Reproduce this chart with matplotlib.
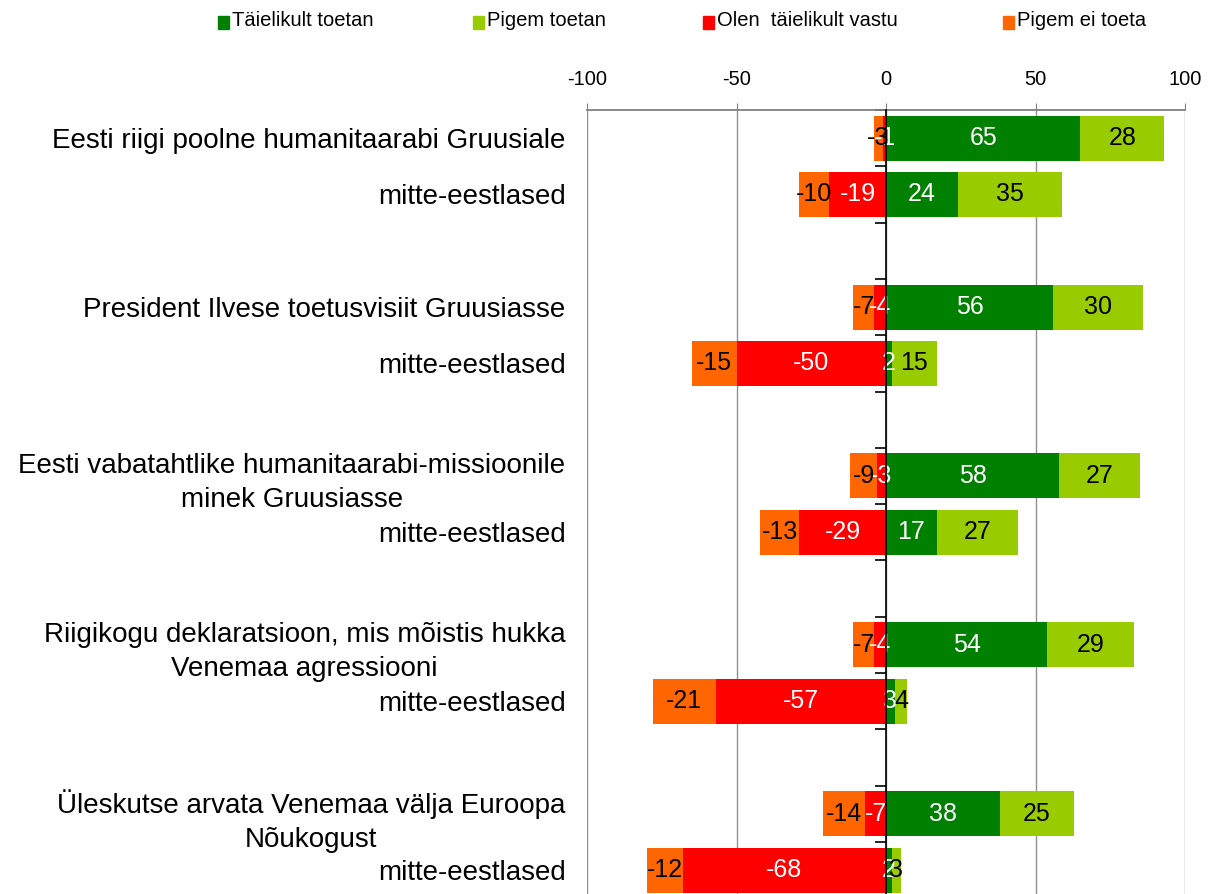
import matplotlib
matplotlib.use('Agg')
import matplotlib.pyplot as plt
from matplotlib.patches import Rectangle
from matplotlib.ticker import FixedLocator
import numpy as np

plt.rcParams['font.family'] = ['Liberation Sans', 'DejaVu Sans']

# ---- data ----
questions = [
    "Eesti riigi poolne humanitaarabi Gruusiale",
    "President Ilvese toetusvisiit Gruusiasse",
    "Eesti vabatahtlike humanitaarabi-missioonile\nminek Gruusiasse",
    "Riigikogu deklaratsioon, mis mõistis hukka\nVenemaa agressiooni",
    "Üleskutse arvata Venemaa välja Euroopa\nNõukogust",
]
subgroup = "mitte-eestlased"
series_names = ["Täielikult toetan", "Pigem toetan", "Olen  täielikult vastu", "Pigem ei toeta"]
full_support = [65, 24, 56, 2, 58, 17, 54, 3, 38, 2]
rather_support = [28, 35, 30, 15, 27, 27, 29, 4, 25, 3]
full_against = [-1, -19, -4, -50, -3, -29, -4, -57, -7, -68]
rather_against = [-3, -10, -7, -15, -9, -13, -7, -21, -14, -12]
x_ticks = [-100, -50, 0, 50, 100]

c_full_sup = '#008000'
c_rather_sup = '#99CC00'
c_full_ag = '#FF0000'
c_rather_ag = '#FF6600'

# row positions: each question + subgroup, then an empty slot
labels = []
pos = []
for i, q in enumerate(questions):
    labels += [q, subgroup]
    pos += [3 * i, 3 * i + 1]
pos = np.array(pos)

fig = plt.figure(figsize=(12.1, 8.94), dpi=100)
W, H = 1210, 894
ax = fig.add_axes([587 / W, (H - 954.5) / H, 598 / W, 844.5 / H])

h = 0.8
fa = np.array(full_against)
ra = np.array(rather_against)
fs = np.array(full_support)
rs = np.array(rather_support)

b1 = ax.barh(pos, fa, height=h, color=c_full_ag, zorder=3)
b2 = ax.barh(pos, ra, left=fa, height=h, color=c_rather_ag, zorder=3)
b3 = ax.barh(pos, fs, height=h, color=c_full_sup, zorder=3)
b4 = ax.barh(pos, rs, left=fs, height=h, color=c_rather_sup, zorder=3)

fs_lbl = 18
for bars, vals, col in [(b1, fa, 'white'), (b2, ra, 'black'), (b3, fs, 'white'), (b4, rs, 'black')]:
    ax.bar_label(bars, labels=[f"{v:d}" for v in vals], label_type='center',
                 color=col, fontsize=fs_lbl, zorder=5)

ax.set_xlim(-100, 100)
ax.set_ylim(14.5, -0.5)

# x axis on top
ax.xaxis.set_ticks_position('top')
ax.xaxis.set_label_position('top')
ax.set_xticks(x_ticks)
ax.set_xticklabels([str(v) for v in x_ticks], fontsize=14.5)
ax.tick_params(axis='x', which='major', direction='out', length=5, color='#808080', pad=10)
ax.grid(axis='x', color='#909090', linewidth=1, zorder=0)

for s in ['left', 'bottom']:
    ax.spines[s].set_visible(False)
ax.spines['top'].set_color('#808080')
ax.spines['top'].set_linewidth(1.3)
ax.spines['right'].set_position(('data', 0))
ax.spines['right'].set_color('black')
ax.spines['right'].set_linewidth(1.2)
ax.spines['right'].set_zorder(6)

# category labels on left
ax.set_yticks(pos)
ax.set_yticklabels(labels, fontsize=20)
ax.yaxis.set_minor_locator(FixedLocator(np.arange(-0.5, 15, 1.0)))
ax.tick_params(axis='y', which='major', left=True, right=False, length=0, pad=15.5)
ax.tick_params(axis='y', which='minor', left=False, right=True, direction='in', length=8, width=1.2, color='black')
for t in ax.get_yticklabels():
    t.set_multialignment('center')
    t.set_linespacing(1.4)

# legend
leg_x = [218, 473, 703, 1003]
leg_y = 21
sq_w, sq_h = 11, 13
for x0, name, col in zip(leg_x, series_names, [c_full_sup, c_rather_sup, c_full_ag, c_rather_ag]):
    fig.add_artist(Rectangle((x0 / W, (H - leg_y - sq_h / 2 - 1) / H), sq_w / W, sq_h / H,
                             transform=fig.transFigure, color=col))
    fig.text((x0 + sq_w + 3) / W, (H - leg_y) / H, name, fontsize=14.5, va='center', ha='left')

fig.savefig('out.png', dpi=100)
